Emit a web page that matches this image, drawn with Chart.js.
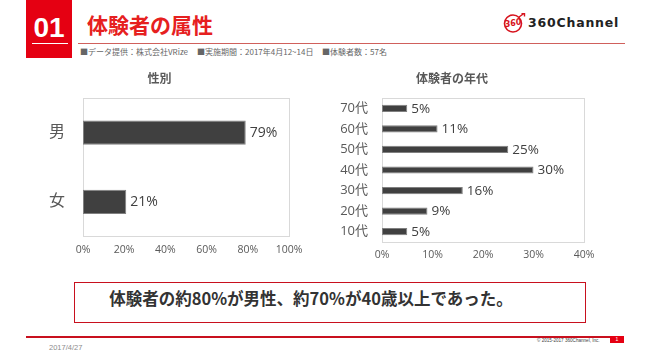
<!DOCTYPE html>
<html><head><meta charset="utf-8">
<script src="https://cdn.jsdelivr.net/npm/chart.js@4"></script>
<style>
html,body{margin:0;padding:0;background:#fff;width:650px;height:364px;overflow:hidden;}
body{position:relative;font-family:'Open Sans','Noto Sans CJK JP',sans-serif;}
.abs{position:absolute;white-space:nowrap;}
#numbox{left:26px;top:0;width:46px;height:58px;background:#e50012;}
#num{left:26px;width:46px;top:12px;text-align:center;color:#fff;font:bold 28px 'Liberation Sans',Arial,sans-serif;line-height:32px;}
#numline{left:32px;top:43px;width:36px;height:1px;background:#fff;}
#title{left:87px;top:11px;color:#e62020;font:bold 21px 'Noto Sans CJK JP',sans-serif;line-height:26px;}
#hline{left:78px;top:43px;width:547px;height:1px;background:#d0605c;}
.sub{top:46px;color:#666;font:8px 'Noto Sans CJK JP',sans-serif;line-height:12px;}
#logo{left:503px;top:13px;}
#logotext{left:528px;top:14px;color:#222;font:bold 12.5px 'DejaVu Sans',sans-serif;letter-spacing:0.8px;line-height:18px;}
#c1{position:absolute;left:30px;top:65px;}
#c2{position:absolute;left:320px;top:65px;}
#box{left:74px;top:282px;width:510px;height:39px;border:1.5px solid #c8101e;}
#summary{left:74px;width:474px;top:287px;text-align:center;color:#333;font:bold 16.5px 'Noto Sans CJK JP',sans-serif;line-height:22px;}
#fline{left:26px;top:336px;width:584px;height:2px;background:#c8101e;}
#tab{left:610px;top:336px;width:14px;height:7px;background:#e50012;color:#fff;font:5px sans-serif;text-align:center;line-height:7px;}
#copy{left:537px;top:338px;color:#444;font:4.6px 'Liberation Sans',sans-serif;line-height:6px;}
#date{left:49px;top:343px;color:#8c8c8c;font:7.5px 'Liberation Sans',sans-serif;line-height:10px;}
</style></head>
<body>
<div id="numbox" class="abs"></div>
<div id="num" class="abs">01</div>
<div id="numline" class="abs"></div>
<div id="title" class="abs">体験者の属性</div>
<div id="hline" class="abs"></div>
<div class="abs sub" style="left:80px">■データ提供：株式会社VRize</div>
<div class="abs sub" style="left:197px">■実施期間：2017年4月12~14日</div>
<div class="abs sub" style="left:322px">■体験者数：57名</div>
<svg id="logo" class="abs" width="24" height="20" viewBox="0 0 24 20">
  <circle cx="10" cy="10.5" r="8.5" fill="none" stroke="#d7141e" stroke-width="1.6"/>
  <text x="10" y="14" text-anchor="middle" font-family="DejaVu Sans" font-weight="bold" font-size="8" fill="#d7141e">3<tspan dy="-1.5">6</tspan><tspan dy="-1">0</tspan></text>
  <path d="M16 4 L21 0.5 M18.5 0.5 L21.5 0.5 L21.5 3.5" stroke="#d7141e" stroke-width="1.4" fill="none"/>
</svg>
<div id="logotext" class="abs">360Channel</div>

<canvas id="c1" width="294" height="199"></canvas>
<canvas id="c2" width="300" height="199"></canvas>

<div id="box" class="abs"></div>
<div id="summary" class="abs">体験者の約80%が男性、約70%が40歳以上であった。</div>

<div id="fline" class="abs"></div>
<div id="tab" class="abs">1</div>
<div id="copy" class="abs">© 2015-2017 360Channel, Inc.</div>
<div id="date" class="abs">2017/4/27</div>

<script>
// ---- data ----
const genderTitle = '性別';
const genderLabels = ['男', '女'];
const genderValues = [79, 21];
const genderTicks = [0, 20, 40, 60, 80, 100];

const ageTitle = '体験者の年代';
const ageLabels = ['70代', '60代', '50代', '40代', '30代', '20代', '10代'];
const ageValues = [5, 11, 25, 30, 16, 9, 5];
const ageTicks = [0, 10, 20, 30, 40];

Chart.defaults.font.family = "'Open Sans','Noto Sans CJK JP',sans-serif";
Chart.defaults.color = '#595959';

const frame = {
  id: 'frame',
  beforeDatasetsDraw(chart) {
    const a = chart.chartArea, ctx = chart.ctx;
    ctx.save();
    ctx.strokeStyle = '#d9d9d9';
    ctx.lineWidth = 1;
    ctx.strokeRect(Math.round(a.left) + 0.5, Math.round(a.top) + 0.5, Math.round(a.right - a.left), Math.round(a.bottom - a.top));
    ctx.restore();
  }
};
const valueLabels = {
  id: 'valueLabels',
  afterDatasetsDraw(chart, args, opts) {
    const ctx = chart.ctx;
    const meta = chart.getDatasetMeta(0);
    const vals = chart.data.datasets[0].data;
    ctx.save();
    ctx.fillStyle = '#404040';
    ctx.font = opts.size + "px 'Open Sans','Noto Sans CJK JP',sans-serif";
    ctx.textBaseline = 'middle';
    ctx.textAlign = 'left';
    meta.data.forEach((bar, i) => {
      ctx.fillText(vals[i] + '%', bar.x + opts.offset, bar.y + 0.5);
    });
    ctx.restore();
  }
};

function makeChart(id, title, labels, values, ticks, yWidth, padRight, catSize, labelSize, labelPad) {
  return new Chart(document.getElementById(id), {
    type: 'bar',
    data: {
      labels: labels,
      datasets: [{
        data: values,
        backgroundColor: '#404040',
        borderColor: '#808080',
        borderWidth: 1,
        borderSkipped: false,
        categoryPercentage: 1,
        barPercentage: 0.35
      }]
    },
    options: {
      indexAxis: 'y',
      responsive: false,
      animation: false,
      devicePixelRatio: 1,
      layout: { padding: { left: 0, right: padRight, top: 0, bottom: 0 } },
      plugins: {
        legend: { display: false },
        tooltip: { enabled: false },
        title: {
          display: true, text: title, color: '#595959',
          font: { size: 12, weight: 'bold', family: "'Noto Sans CJK JP',sans-serif" },
          padding: { top: 6, bottom: 12.6 }
        },
        valueLabels: { size: labelSize, offset: 4 }
      },
      scales: {
        x: {
          min: ticks[0], max: ticks[ticks.length - 1],
          afterBuildTicks(scale) { scale.ticks = ticks.map(v => ({ value: v })); },
          afterFit(scale) { scale.height = 22; },
          grid: { display: false, drawTicks: false },
          border: { display: false },
          ticks: { callback: v => v + '%', padding: 7, font: { size: 10.5 }, color: '#595959', maxRotation: 0 }
        },
        y: {
          afterFit(scale) { scale.width = yWidth; },
          grid: { display: false, drawTicks: false },
          border: { display: false },
          ticks: { padding: labelPad, font: { size: catSize }, color: '#595959' }
        }
      }
    },
    plugins: [frame, valueLabels]
  });
}

makeChart('c1', genderTitle, genderLabels, genderValues, genderTicks, 53, 35, 16, 14, 18);
makeChart('c2', ageTitle, ageLabels, ageValues, ageTicks, 62, 36, 13, 13.5, 14);
</script>
</body></html>
